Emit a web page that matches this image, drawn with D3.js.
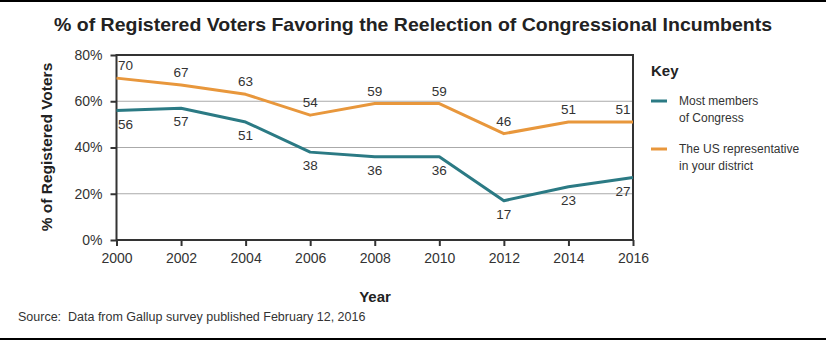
<!DOCTYPE html>
<html>
<head>
<meta charset="utf-8">
<script src="https://cdn.jsdelivr.net/npm/d3@7"></script>
<style>
body { margin: 0; background: #fff; }
svg { display: block; font-family: "Liberation Sans", Arial, sans-serif; }
</style>
</head>
<body>
<script>
"use strict";

var years = [2000, 2002, 2004, 2006, 2008, 2010, 2012, 2014, 2016];
var congress = [56, 57, 51, 38, 36, 36, 17, 23, 27];
var localRep = [70, 67, 63, 54, 59, 59, 46, 51, 51];
var yTicks = [0, 20, 40, 60, 80];

var teal = "#2b7a84", orange = "#e8973c", ink = "#333";

var svg = d3.select("body").append("svg")
	.attr("width", 826)
	.attr("height", 340);

// black rules top and bottom
svg.append("rect").attr("x", 0).attr("y", 0).attr("width", 826).attr("height", 2).attr("fill", "#000");
svg.append("rect").attr("x", 0).attr("y", 338).attr("width", 826).attr("height", 2).attr("fill", "#000");

var x = d3.scaleLinear().domain([2000, 2016]).range([116.5, 633]);
var y = d3.scaleLinear().domain([0, 80]).range([240, 55]);

// title
svg.append("text")
	.attr("x", 413).attr("y", 31)
	.attr("text-anchor", "middle")
	.attr("font-size", 18.5).attr("font-weight", "bold")
	.attr("textLength", 718).attr("lengthAdjust", "spacingAndGlyphs")
	.attr("fill", "#222")
	.text("% of Registered Voters Favoring the Reelection of Congressional Incumbents");

// gridlines
svg.append("g").selectAll("line")
	.data(yTicks.filter(function (d) { return d > 0 && d < 80; }))
	.enter().append("line")
	.attr("x1", x(2000)).attr("x2", x(2016))
	.attr("y1", function (d) { return y(d); })
	.attr("y2", function (d) { return y(d); })
	.attr("stroke", "#aaa").attr("stroke-width", 1);

// frame
svg.append("rect")
	.attr("x", x(2000)).attr("y", y(80))
	.attr("width", x(2016) - x(2000)).attr("height", y(0) - y(80))
	.attr("fill", "none").attr("stroke", ink).attr("stroke-width", 2);

// axes
var yAxis = svg.append("g")
	.attr("transform", "translate(" + x(2000) + ",0)")
	.call(d3.axisLeft(y).tickValues(yTicks).tickSize(6).tickFormat(function (d) { return d + "%"; }));

var xAxis = svg.append("g")
	.attr("transform", "translate(0," + y(0) + ")")
	.call(d3.axisBottom(x).tickValues(years).tickSize(6).tickFormat(d3.format("d")));

[yAxis, xAxis].forEach(function (g) {
	g.select(".domain").remove();
	g.selectAll(".tick line").attr("stroke", ink).attr("stroke-width", 2);
	g.selectAll(".tick text")
		.attr("font-size", 14)
		.attr("font-family", "Liberation Sans, Arial, sans-serif")
		.attr("fill", ink);
});
xAxis.selectAll(".tick text").attr("y", 13);
yAxis.selectAll(".tick text").attr("x", -14);

// axis titles
svg.append("text")
	.attr("transform", "translate(52,147) rotate(-90)")
	.attr("text-anchor", "middle")
	.attr("font-size", 15.5).attr("font-weight", "bold").attr("fill", "#222")
	.text("% of Registered Voters");

svg.append("text")
	.attr("x", 375).attr("y", 302)
	.attr("text-anchor", "middle")
	.attr("font-size", 15).attr("font-weight", "bold").attr("fill", "#222")
	.text("Year");

svg.append("text")
	.attr("x", 18).attr("y", 321)
	.attr("font-size", 12.5).attr("fill", ink)
	.text("Source:\u00a0 Data from Gallup survey published February 12, 2016");

// lines
var line = d3.line()
	.x(function (d, i) { return x(years[i]); })
	.y(function (d) { return y(d); });

function shiftX(i) {
	if (i === 0) return 9;
	if (i === years.length - 1) return -10;
	return 0;
}

function drawSeries(values, color, dy) {
	svg.append("path")
		.datum(values)
		.attr("d", line)
		.attr("fill", "none")
		.attr("stroke", color)
		.attr("stroke-width", 3)
		.attr("stroke-linejoin", "round");

	svg.append("g").selectAll("text")
		.data(values)
		.enter().append("text")
		.attr("x", function (d, i) { return x(years[i]) + shiftX(i); })
		.attr("y", function (d) { return y(d) + dy; })
		.attr("text-anchor", "middle")
		.attr("font-size", 13.5)
		.attr("fill", ink)
		.text(function (d) { return d; });
}

drawSeries(localRep, orange, -8);
drawSeries(congress, teal, 18);

// key
var key = svg.append("g");
key.append("text")
	.attr("x", 651).attr("y", 76)
	.attr("font-size", 15).attr("font-weight", "bold").attr("fill", "#222")
	.text("Key");

var keyItems = [
	{ color: teal, lines: ["Most members", "of Congress"], y: 101 },
	{ color: orange, lines: ["The US representative", "in your district"], y: 149 }
];

keyItems.forEach(function (k) {
	key.append("line")
		.attr("x1", 651).attr("x2", 667)
		.attr("y1", k.y).attr("y2", k.y)
		.attr("stroke", k.color).attr("stroke-width", 3);
	k.lines.forEach(function (t, j) {
		key.append("text")
			.attr("x", 679).attr("y", k.y + 4 + j * 17)
			.attr("font-size", 12).attr("fill", ink)
			.text(t);
	});
});
</script>
</body>
</html>
